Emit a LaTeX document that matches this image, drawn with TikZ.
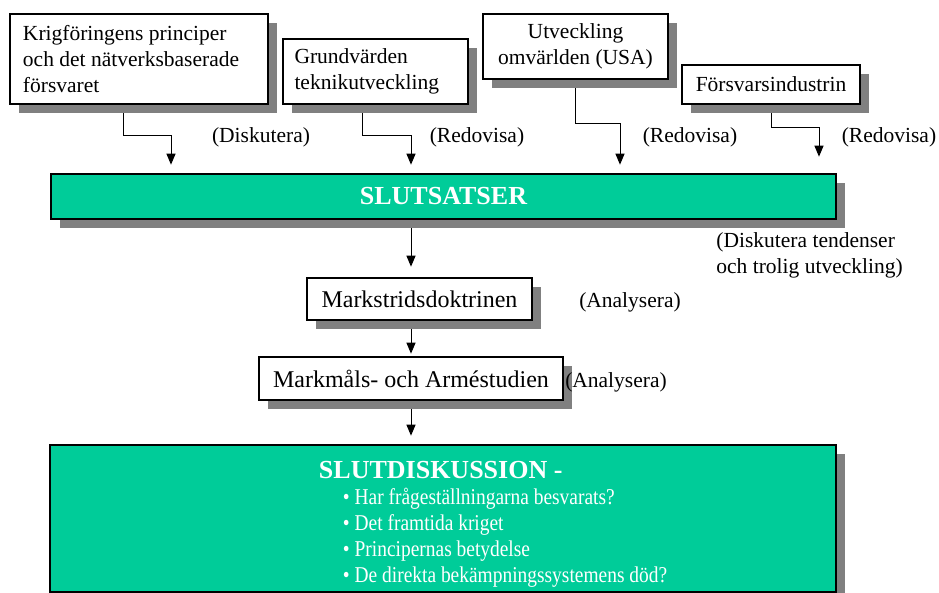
\documentclass[tikz,border=0pt]{standalone}
\usepackage{fontspec}
\setmainfont{Liberation Serif}
\newfontfamily\narrowserif[FakeStretch=0.86]{Liberation Serif}
\usetikzlibrary{arrows.meta,shadows,backgrounds}
\definecolor{slutgreen}{RGB}{0,204,153}
\definecolor{shadowgray}{RGB}{128,128,128}

\begin{document}
\begin{tikzpicture}[x=0.5pt, y=-0.5pt,
    box/.style={draw=black, line width=1.3pt, fill=white, inner sep=0pt,
      drop shadow={shadow xshift=4.5pt, shadow yshift=-4.5pt, fill=shadowgray, opacity=1}},
    lefttext/.style={align=flush left, execute at begin node={\spaceskip=0pt\xspaceskip=0pt\relax}},
    topbox/.style={box, font=\fontsize{10.75}{13}\selectfont},
    midbox/.style={box, font=\fontsize{12}{14}\selectfont},
    greenbox/.style={box, fill=slutgreen, text=white},
    conn/.style={line width=0.5pt, -{Triangle[width=4.5pt,length=5.5pt]}, shorten >=4pt},
    note/.style={font=\fontsize{10.75}{13}\selectfont, inner sep=0pt}]
  \useasboundingbox (0,0) rectangle (939,593);

  \node[topbox, minimum width=129pt, minimum height=45pt, text width=116pt, lefttext] (krig) at (139,59) {Krigföringens principer\\och det nätverksbaserade\\försvaret};
  \node[topbox, minimum width=92.5pt, minimum height=32.5pt, text width=81pt, lefttext] (grund) at (375.5,71.5) {Grundvärden\\teknikutveckling};
  \node[topbox, minimum width=92.5pt, minimum height=32.5pt, align=center] (omv) at (575.5,46.5) {Utveckling\\omvärlden (USA)};
  \node[topbox, minimum width=89pt, minimum height=19.5pt] (ind) at (771,84.5) {Försvarsindustrin};

  \node[greenbox, minimum width=392.5pt, minimum height=22.5pt, font=\bfseries\fontsize{13}{15}\selectfont] (slut) at (443.5,196.5) {SLUTSATSER};

  \node[midbox, minimum width=112.5pt, minimum height=21pt] (doktrin) at (419.5,299) {Markstridsdoktrinen};
  \node[midbox, minimum width=152pt, minimum height=21.5pt] (studie) at (411,378.5) {Markmåls- och Arméstudien};

  \node[greenbox, minimum width=393pt, minimum height=73.5pt, text width=380pt, lefttext,
        font=\narrowserif\fontsize{11.3}{13}\selectfont] (disk) at (443,518.5)
    {\hspace*{128pt}{\rmfamily\bfseries\fontsize{13}{15}\selectfont\rule{0pt}{14pt}SLUTDISKUSSION -}\\
     \hspace*{140pt}\textbullet\ Har frågeställningarna besvarats?\\
     \hspace*{140pt}\textbullet\ Det framtida kriget\\
     \hspace*{140pt}\textbullet\ Principernas betydelse\\
     \hspace*{140pt}\textbullet\ De direkta bekämpningssystemens död?};

  \node[note] (diskutera) at (261,137) {(Diskutera)};
  \node[note] (redovisa1) at (477,137) {(Redovisa)};
  \node[note] (redovisa2) at (690,137) {(Redovisa)};
  \node[note] (redovisa3) at (889,137) {(Redovisa)};
  \node[note, anchor=west, lefttext] (tendenser) at (716,255) {(Diskutera tendenser\\och trolig utveckling)};
  \node[note] (analysera1) at (630,302) {(Analysera)};
  \node[note] (analysera2) at (616,382) {(Analysera)};

  \begin{pgfonlayer}{background}
    \draw[conn] ([xshift=-8pt]krig.south) -- ++(0,30) -| ([xshift=-136.25pt]slut.north);
    \draw[conn] ([xshift=-6.75pt]grund.south) -- ++(0,30) -| ([xshift=-16.25pt]slut.north);
    \draw[conn] (omv.south) -- ++(0,43) -| ([xshift=88.25pt]slut.north);
    \draw[conn, shorten >=8pt] (ind.south) -- ++(0,22) -| ([xshift=187.75pt]slut.north);
    \draw[conn, shorten >=5pt] (slut.south -| studie.north) -- (doktrin.north -| studie.north);
    \draw[conn, shorten >=1pt] (doktrin.south -| studie.north) -- (studie.north);
    \draw[conn] (studie.south) -- (disk.north -| studie.north);
  \end{pgfonlayer}
\end{tikzpicture}
\end{document}
